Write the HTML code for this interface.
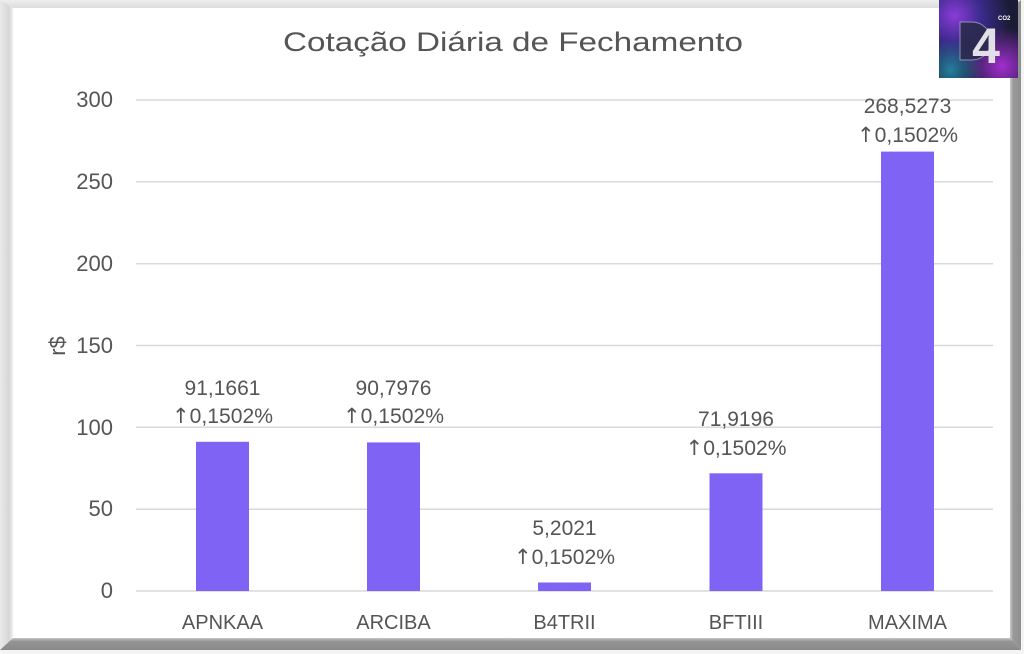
<!DOCTYPE html>
<html>
<head>
<meta charset="utf-8">
<style>
  html,body{margin:0;padding:0;background:#f4f4f4;}
  svg{display:block;}
  text{font-family:"Liberation Sans","DejaVu Sans",sans-serif;fill:#555555;}
  .ar{font-family:"DejaVu Sans",sans-serif;}
</style>
</head>
<body>
<svg width="1024" height="654" viewBox="0 0 1024 654" xmlns="http://www.w3.org/2000/svg">
  <defs>
    <linearGradient id="lg" x1="0" x2="1" y1="0" y2="0">
      <stop offset="0" stop-color="#e9e9e9"/>
      <stop offset="0.7" stop-color="#d6d6d6"/>
      <stop offset="1" stop-color="#f0f0f0"/>
    </linearGradient>
    <linearGradient id="rg" x1="0" x2="1" y1="0" y2="0">
      <stop offset="0" stop-color="#c8c8c8"/>
      <stop offset="0.3" stop-color="#9a9a9a"/>
      <stop offset="1" stop-color="#8e8e8e"/>
    </linearGradient>
    <linearGradient id="bg" x1="0" x2="0" y1="0" y2="1">
      <stop offset="0" stop-color="#c4c4c4"/>
      <stop offset="0.3" stop-color="#939393"/>
      <stop offset="1" stop-color="#8a8a8a"/>
    </linearGradient>
    <linearGradient id="tg" x1="0" x2="0" y1="0" y2="1">
      <stop offset="0" stop-color="#eeeeee"/>
      <stop offset="1" stop-color="#dddddd"/>
    </linearGradient>
    <radialGradient id="logo1" cx="0.2" cy="0.2" r="0.7">
      <stop offset="0" stop-color="#8a3cd8"/>
      <stop offset="0.5" stop-color="#3a2a8a"/>
      <stop offset="1" stop-color="#1a1c36"/>
    </radialGradient>
    <radialGradient id="logo2" cx="0.8" cy="0.85" r="0.5">
      <stop offset="0" stop-color="#b030e0" stop-opacity="0.9"/>
      <stop offset="1" stop-color="#b030e0" stop-opacity="0"/>
    </radialGradient>
    <radialGradient id="logo3" cx="0.15" cy="0.9" r="0.4">
      <stop offset="0" stop-color="#2aa8c8" stop-opacity="0.7"/>
      <stop offset="1" stop-color="#2aa8c8" stop-opacity="0"/>
    </radialGradient>
  </defs>

  <!-- frame -->
  <rect x="0" y="0" width="1024" height="654" fill="#f4f4f4"/>
  <polygon points="0,0 1021,0 1010,8 13,8" fill="url(#tg)"/>
  <polygon points="0,0 13,8 13,638 0,650" fill="url(#lg)"/>
  <polygon points="1021,0 1021,650 1010,638 1010,8" fill="url(#rg)"/>
  <polygon points="0,650 13,638 1010,638 1021,650" fill="url(#bg)"/>
  <rect x="13" y="8" width="997" height="630" fill="#ffffff"/>

  <!-- title -->
  <text x="513" y="51" font-size="27" text-anchor="middle" textLength="460" lengthAdjust="spacingAndGlyphs">Cotação Diária de Fechamento</text>

  <!-- gridlines -->
  <g stroke="#d9d9d9" stroke-width="1.5">
    <line x1="136" x2="993" y1="100" y2="100"/>
    <line x1="136" x2="993" y1="181.8" y2="181.8"/>
    <line x1="136" x2="993" y1="263.7" y2="263.7"/>
    <line x1="136" x2="993" y1="345.5" y2="345.5"/>
    <line x1="136" x2="993" y1="427.3" y2="427.3"/>
    <line x1="136" x2="993" y1="509.2" y2="509.2"/>
    <line x1="136" x2="993" y1="591" y2="591"/>
  </g>

  <!-- y tick labels -->
  <g font-size="22" text-anchor="end">
    <text x="113" y="107">300</text>
    <text x="113" y="189">250</text>
    <text x="113" y="271">200</text>
    <text x="113" y="353">150</text>
    <text x="113" y="435">100</text>
    <text x="113" y="516">50</text>
    <text x="113" y="598">0</text>
  </g>

  <!-- y axis title -->
  <text transform="translate(65,346) rotate(-90)" font-size="22" text-anchor="middle">r$</text>

  <!-- bars -->
  <g fill="#7f63f5">
    <rect x="196" y="441.8" width="53" height="149.2"/>
    <rect x="367" y="442.4" width="53" height="148.6"/>
    <rect x="538" y="582.5" width="53" height="8.5"/>
    <rect x="709.5" y="473.3" width="53" height="117.7"/>
    <rect x="881" y="151.6" width="53" height="439.4"/>
  </g>

  <!-- data labels -->
  <g font-size="21" text-anchor="middle">
    <text x="222.5" y="395">91,1661</text>
    <text x="222.5" y="423" textLength="101" lengthAdjust="spacingAndGlyphs"><tspan class="ar">↑</tspan>0,1502%</text>
    <text x="393.5" y="395">90,7976</text>
    <text x="393.5" y="423" textLength="101" lengthAdjust="spacingAndGlyphs"><tspan class="ar">↑</tspan>0,1502%</text>
    <text x="564.5" y="535">5,2021</text>
    <text x="564.5" y="564" textLength="101" lengthAdjust="spacingAndGlyphs"><tspan class="ar">↑</tspan>0,1502%</text>
    <text x="736" y="426">71,9196</text>
    <text x="736" y="455" textLength="101" lengthAdjust="spacingAndGlyphs"><tspan class="ar">↑</tspan>0,1502%</text>
    <text x="907.5" y="113">268,5273</text>
    <text x="907.5" y="142" textLength="101" lengthAdjust="spacingAndGlyphs"><tspan class="ar">↑</tspan>0,1502%</text>
  </g>

  <!-- x labels -->
  <g font-size="20" text-anchor="middle">
    <text x="222.5" y="629">APNKAA</text>
    <text x="393.5" y="629">ARCIBA</text>
    <text x="564.5" y="629">B4TRII</text>
    <text x="736" y="629">BFTIII</text>
    <text x="907.5" y="629">MAXIMA</text>
  </g>

  <!-- logo -->
  <g>
    <rect x="939" y="0" width="79" height="78" fill="url(#logo1)"/>
    <rect x="939" y="0" width="79" height="78" fill="url(#logo2)"/>
    <rect x="939" y="0" width="79" height="78" fill="url(#logo3)"/>
    <path d="M960 22 h12 a19 19 0 0 1 0 38 h-12 z" fill="#2a2a4a" stroke="#9aa0c0" stroke-width="1" opacity="0.85"/>
    <text x="986" y="63" font-size="50" font-weight="bold" text-anchor="middle" style="fill:#e0e0e6">4</text>
    <text x="998" y="20" font-size="6" font-weight="bold" style="fill:#ffffff">CO2</text>
  </g>
</svg>
</body>
</html>
